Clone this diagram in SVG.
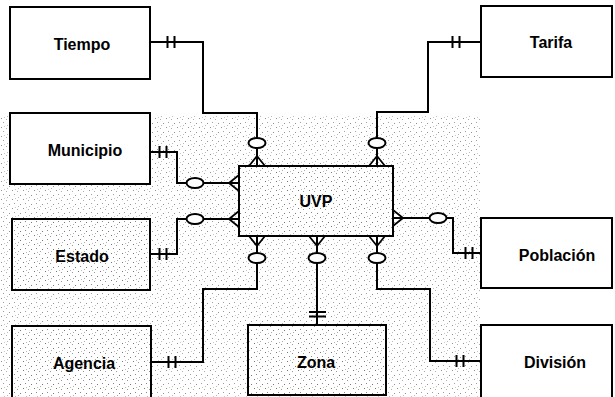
<svg xmlns="http://www.w3.org/2000/svg" width="615" height="397" viewBox="0 0 615 397">
  <style>
    .box { stroke: #000; stroke-width: 2; }
    .plain { fill: #fff; }
    .speck { fill: url(#noise); }
    .lbl { font-family: "Liberation Sans", Arial, sans-serif; font-weight: bold; font-size: 16px; fill: #000; text-anchor: middle; }
    .ln { fill: none; stroke: #000; stroke-width: 2; }
    .opt { fill: #fff; stroke: #000; stroke-width: 2; }
  </style>
  <defs>
    <pattern id="noise" width="11" height="9" patternUnits="userSpaceOnUse">
      <rect width="11" height="9" fill="#fff"/>
      <rect x="1" y="1" width="1" height="1" fill="#777"/>
      <rect x="6" y="2" width="1" height="1" fill="#999"/>
      <rect x="3" y="5" width="1" height="1" fill="#888"/>
      <rect x="9" y="6" width="1" height="1" fill="#777"/>
      <rect x="7" y="8" width="1" height="1" fill="#aaa"/>
      <rect x="4" y="0" width="1" height="1" fill="#bbb"/>
    </pattern>
    <g id="crow">
      <path d="M0,-10 L-8,0 M0,-10 L0,0 M0,-10 L8,0" fill="none" stroke="#000" stroke-width="1.8"/>
    </g>
    <g id="ticks">
      <path d="M-3.5,-6 L-3.5,6 M3.5,-6 L3.5,6" fill="none" stroke="#000" stroke-width="2"/>
    </g>
  </defs>
  <rect width="615" height="397" fill="#fff"/>
  <rect x="0" y="115" width="480" height="282" fill="url(#noise)" opacity="0.8"/>

  <g id="connectors">
    <!-- Tiempo -->
    <path class="ln" d="M150,42 H203 V113 H257 V166"/>
    <use href="#ticks" transform="translate(171,42)"/>
    <use href="#crow" transform="translate(257,166)"/>
    <ellipse class="opt" cx="257" cy="143" rx="8.5" ry="5"/>
    <!-- Tarifa -->
    <path class="ln" d="M481,42 H428 V112 H377 V166"/>
    <use href="#ticks" transform="translate(456,42)"/>
    <use href="#crow" transform="translate(377,166)"/>
    <ellipse class="opt" cx="377" cy="143" rx="8.5" ry="5"/>
    <!-- Municipio -->
    <path class="ln" d="M150,152 H177 V183 H239"/>
    <use href="#ticks" transform="translate(163,152)"/>
    <use href="#crow" transform="translate(239,183) rotate(-90)"/>
    <ellipse class="opt" cx="195" cy="183" rx="8.5" ry="5"/>
    <!-- Estado -->
    <path class="ln" d="M150,254 H177 V219 H239"/>
    <use href="#ticks" transform="translate(163,254)"/>
    <use href="#crow" transform="translate(239,219) rotate(-90)"/>
    <ellipse class="opt" cx="195" cy="219" rx="8.5" ry="5"/>
    <!-- Agencia -->
    <path class="ln" d="M151,362 H203 V289 H257 V236"/>
    <use href="#ticks" transform="translate(172,362)"/>
    <use href="#crow" transform="translate(257,236) rotate(180)"/>
    <ellipse class="opt" cx="257" cy="258" rx="8.5" ry="5"/>
    <!-- Zona -->
    <path class="ln" d="M317,236 V325"/>
    <path class="ln" d="M309,312 H326 M309,316.5 H326"/>
    <use href="#crow" transform="translate(317,236) rotate(180)"/>
    <ellipse class="opt" cx="317" cy="258" rx="8.5" ry="5"/>
    <!-- Población -->
    <path class="ln" d="M393,218 H453 V253 H481"/>
    <use href="#ticks" transform="translate(469,253)"/>
    <use href="#crow" transform="translate(393,218) rotate(90)"/>
    <ellipse class="opt" cx="438" cy="218" rx="8.5" ry="5"/>
    <!-- División -->
    <path class="ln" d="M377,236 V289 H430 V361 H481"/>
    <use href="#ticks" transform="translate(460,361)"/>
    <use href="#crow" transform="translate(377,236) rotate(180)"/>
    <ellipse class="opt" cx="377" cy="258" rx="8.5" ry="5"/>
  </g>

  <g id="node-tiempo">
    <rect class="box plain" x="10" y="7" width="140" height="72"/>
    <text class="lbl" x="82" y="50">Tiempo</text>
  </g>
  <g id="node-municipio">
    <rect class="box plain" x="10" y="113" width="140" height="71"/>
    <text class="lbl" x="85" y="156">Municipio</text>
  </g>
  <g id="node-estado">
    <rect class="box speck" x="12" y="219" width="138" height="71"/>
    <text class="lbl" x="82" y="262">Estado</text>
  </g>
  <g id="node-agencia">
    <rect class="box speck" x="12" y="326" width="139" height="75"/>
    <text class="lbl" x="84" y="369">Agencia</text>
  </g>
  <g id="node-uvp">
    <rect class="box speck" x="239" y="166" width="154" height="70"/>
    <text class="lbl" x="316" y="207">UVP</text>
  </g>
  <g id="node-zona">
    <rect class="box speck" x="248" y="325" width="138" height="70"/>
    <text class="lbl" x="316" y="368">Zona</text>
  </g>
  <g id="node-tarifa">
    <rect class="box plain" x="481" y="6" width="131" height="71"/>
    <text class="lbl" x="551" y="48">Tarifa</text>
  </g>
  <g id="node-poblacion">
    <rect class="box plain" x="481" y="218" width="131" height="70"/>
    <text class="lbl" x="557" y="261">Población</text>
  </g>
  <g id="node-division">
    <rect class="box plain" x="481" y="325" width="131" height="76"/>
    <text class="lbl" x="555" y="368">División</text>
  </g>
</svg>
